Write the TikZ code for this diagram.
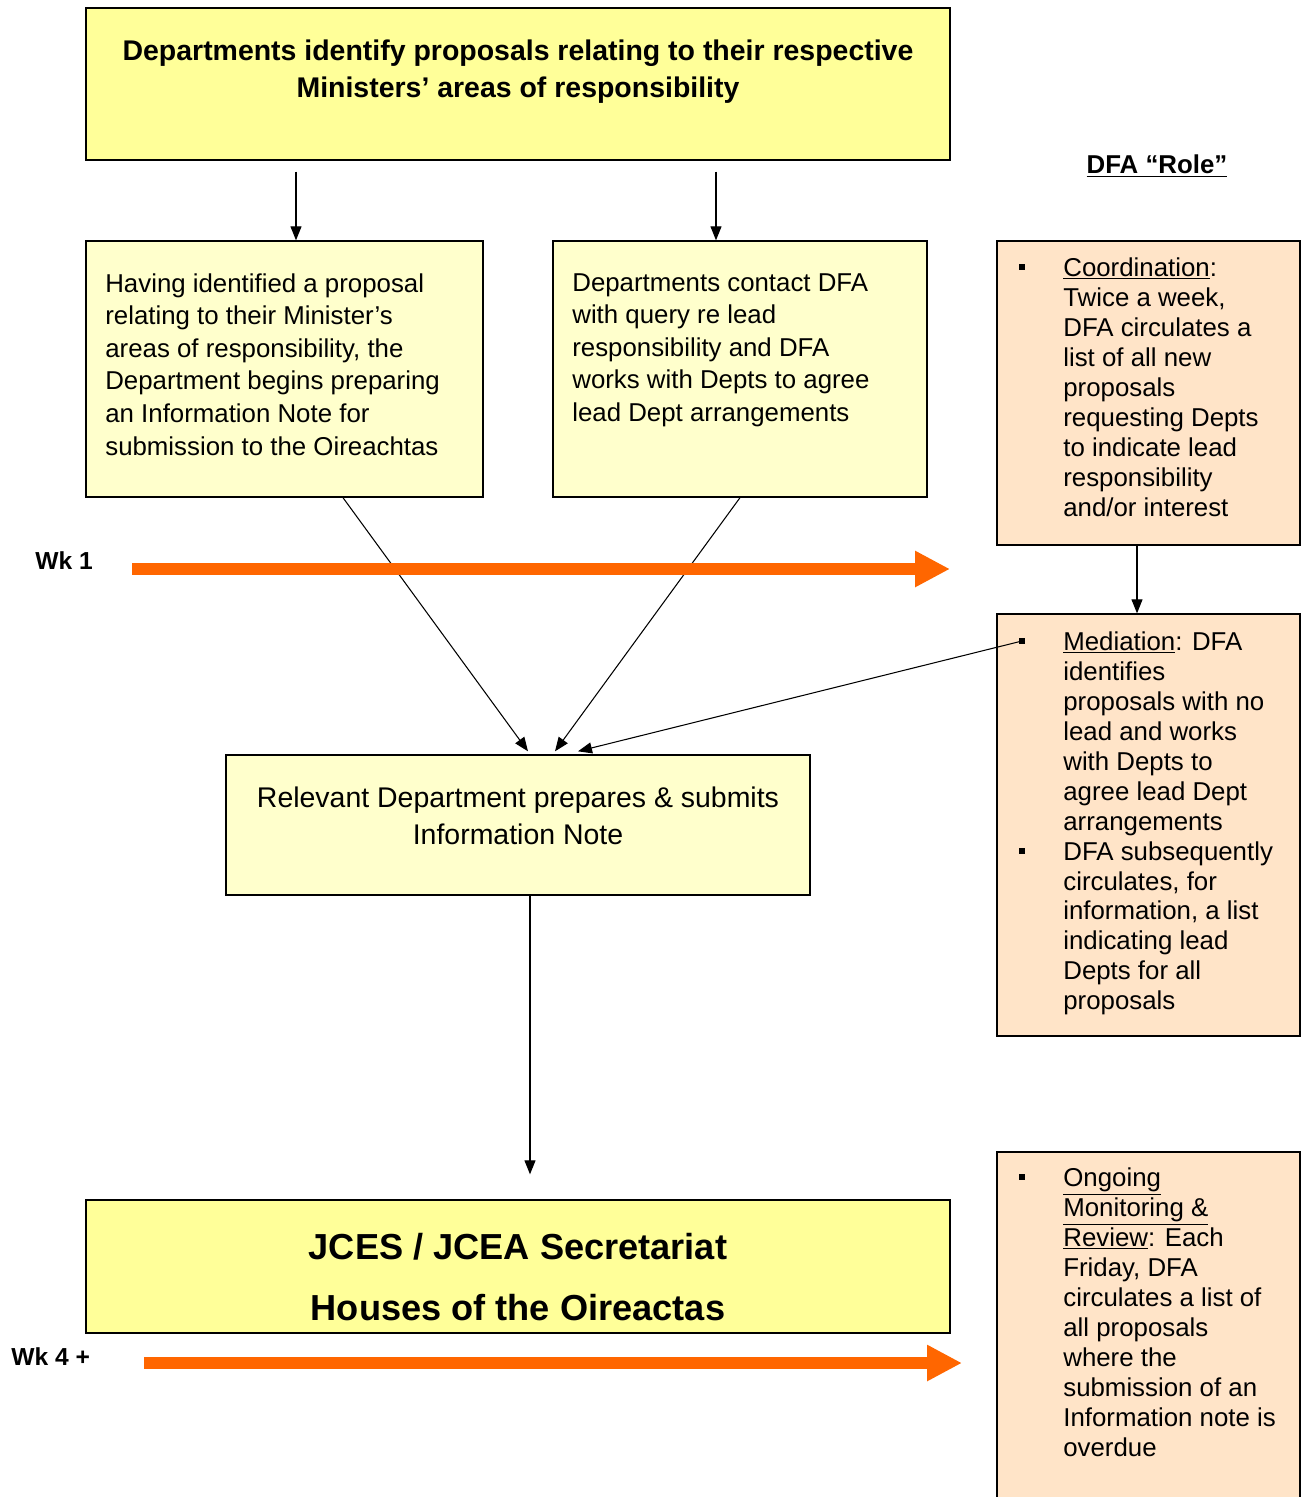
\documentclass[tikz,border=0pt]{standalone}
\usepackage{fontspec}
\setmainfont{Liberation Sans}
\usetikzlibrary{arrows.meta}
\definecolor{ytop}{HTML}{FFFF99}
\definecolor{ylight}{HTML}{FFFFCC}
\definecolor{peach}{HTML}{FFE4C8}
\definecolor{orangeA}{HTML}{FF6600}
\begin{document}
\begin{tikzpicture}[x=0.02cm,y=-0.02cm,
  boxbase/.style={draw=black,line width=0.8pt,inner sep=0pt,rectangle},
  bodytext/.style={font=\fontsize{14.7pt}{18.55pt}\selectfont,align=left,inner sep=0pt,anchor=north west},
  sidetext/.style={font=\fontsize{14.7pt}{17.07pt}\selectfont,align=left,inner sep=0pt,anchor=north west},
  bulletsq/.style={fill=black,inner sep=0pt,minimum size=0.13cm,rectangle},
  arr/.style={draw=black,line width=0.6pt,-{Triangle[length=0.28cm,width=0.22cm]}},
  weekarr/.style={draw=orangeA,line width=0.24cm,-{Triangle[length=0.7cm,width=0.68cm]}},
  weeklabel/.style={font=\bfseries\fontsize{14pt}{16pt}\selectfont,inner sep=0pt,anchor=west}
]
\useasboundingbox (0,0) rectangle (1307,1497);
\clip (0,0) rectangle (1307,1497);

% boxes
\node[boxbase,fill=ytop,minimum width=17.28cm,minimum height=3.04cm] (top) at (518,84) {};
\node[boxbase,fill=ylight,minimum width=7.94cm,minimum height=5.12cm] (boxL) at (284.5,369) {};
\node[boxbase,fill=ylight,minimum width=7.48cm,minimum height=5.12cm] (boxM) at (740,369) {};
\node[boxbase,fill=peach,minimum width=6.06cm,minimum height=6.08cm] (r1) at (1148.5,393) {};
\node[boxbase,fill=peach,minimum width=6.06cm,minimum height=8.44cm] (r2) at (1148.5,825) {};
\node[boxbase,fill=peach,minimum width=6.06cm,minimum height=7.36cm] (r3) at (1148.5,1336) {};
\node[boxbase,fill=ylight,minimum width=11.68cm,minimum height=2.8cm] (rel) at (518,825) {};
\node[boxbase,fill=ytop,minimum width=17.28cm,minimum height=2.66cm] (jces) at (518,1266.5) {};

% texts
\node[font=\bfseries\fontsize{16.2pt}{21pt}\selectfont,align=center,inner sep=0pt,anchor=north] (toptext) at (518,40)
  {Departments identify proposals relating to their respective\\Ministers’ areas of responsibility};
\node[bodytext] (ltext) at (105,273) {Having identified a proposal\\relating to their Minister’s\\areas of responsibility, the\\Department begins preparing\\an Information Note for\\submission to the Oireachtas};
\node[bodytext] (mtext) at (572,273) {Departments contact DFA\\with query re lead\\responsibility and DFA\\works with Depts to agree\\lead Dept arrangements};
\node[font=\fontsize{16.2pt}{20.5pt}\selectfont,align=center,inner sep=0pt,anchor=north] (reltext) at (518,787)
  {Relevant Department prepares \& submits\\Information Note};
\node[font=\bfseries\fontsize{20.6pt}{34.7pt}\selectfont,align=center,inner sep=0pt,anchor=north] (jcestext) at (518,1233)
  {JCES / JCEA Secretariat\\Houses of the Oireactas};

\node[font=\bfseries\fontsize{14.7pt}{17pt}\selectfont,inner sep=0pt] (role) at (1157,166) {\underline{DFA “Role”}};

\node[bulletsq] (b1) at (1022,267) {};
\node[sidetext] (r1text) at (1063,257) {\underline{Coordination}:\\Twice a week,\\DFA circulates a\\list of all new\\proposals\\requesting Depts\\to indicate lead\\responsibility\\and/or interest};
\node[bulletsq] (b2) at (1022,641) {};
\node[bulletsq] (b3) at (1022,851) {};
\node[sidetext] (r2text) at (1063,631) {\underline{Mediation}: DFA\\identifies\\proposals with no\\lead and works\\with Depts to\\agree lead Dept\\arrangements\\DFA subsequently\\circulates, for\\information, a list\\indicating lead\\Depts for all\\proposals};
\node[bulletsq] (b4) at (1022,1177) {};
\node[sidetext] (r3text) at (1063,1167) {\underline{Ongoing}\\\underline{Monitoring \&}\\\underline{Review}: Each\\Friday, DFA\\circulates a list of\\all proposals\\where the\\submission of an\\Information note is\\overdue};

\node[weeklabel] (wk1) at (35,561) {Wk 1};
\node[weeklabel] (wk4) at (11,1357) {Wk 4 +};

% connectors
\coordinate (x1) at (296,0);
\coordinate (x2) at (716,0);
\draw[arr,shorten <=0.22cm] (top.south -| x1) -- (boxL.north -| x1);
\draw[arr,shorten <=0.22cm] (top.south -| x2) -- (boxM.north -| x2);
\draw[arr] ([xshift=1.17cm]boxL.south) -- ([xshift=0.2cm,yshift=0.06cm]rel.north);
\draw[arr] (boxM.south) -- ([xshift=0.74cm,yshift=0.06cm]rel.north);
\draw[arr] (b2.center) -- ([xshift=1.2cm,yshift=0.06cm]rel.north);
\draw[arr] ([xshift=-0.23cm]r1.south) -- ([xshift=-0.23cm]r2.north);
\draw[arr,shorten >=0.5cm] ([xshift=0.24cm]rel.south) -- ([xshift=0.24cm]jces.north);

% week arrows
\coordinate (w1s) at (132,569);
\coordinate (w1e) at (950,569);
\coordinate (w4s) at (144,1363);
\coordinate (w4e) at (962,1363);
\draw[weekarr] (w1s) -- (w1e);
\draw[weekarr] (w4s) -- (w4e);
\end{tikzpicture}
\end{document}
